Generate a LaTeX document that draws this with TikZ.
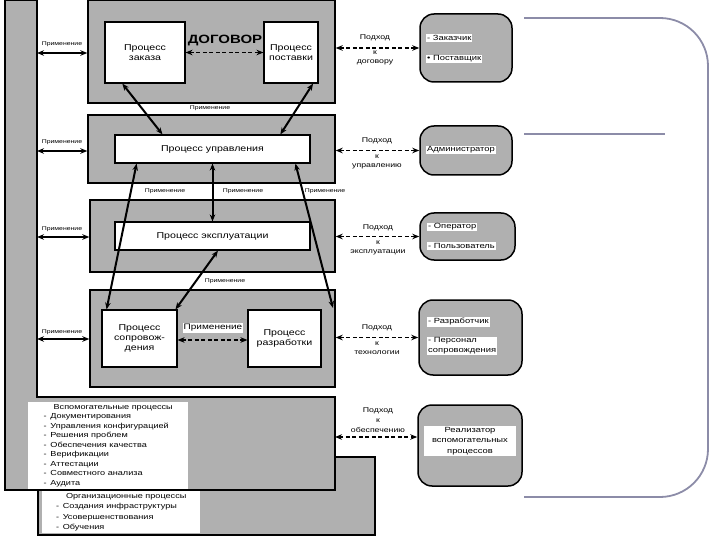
\documentclass[tikz,border=0pt]{standalone}
\usepackage{fontspec}
\setmainfont[FakeStretch=1.25]{Liberation Sans}
\usetikzlibrary{arrows.meta,calc}
\definecolor{framecol}{HTML}{8C8CA8}
\definecolor{halftone}{HTML}{B0B0B0}
\begin{document}
\begin{tikzpicture}[x=1pt,y=-1pt,
  block/.style={draw=black,line width=1.4pt,fill=halftone,inner sep=0pt},
  proc/.style={draw=black,line width=1.1pt,fill=white,inner sep=1pt,align=center,font=\fontsize{8.5}{10}\selectfont},
  actor/.style={draw=black,line width=1.5pt,fill=halftone,rounded corners=14pt,inner sep=0pt},
  strip/.style={fill=white,inner sep=1pt,align=left,font=\fontsize{7.5}{9}\selectfont},
  lbl/.style={inner sep=0pt,font=\fontsize{5.5}{6}\selectfont},
  apl/.style={inner sep=0pt,align=center,font=\fontsize{7}{9}\selectfont},
  tip/.style={{Stealth[length=7pt,width=5.5pt]}-{Stealth[length=7pt,width=5.5pt]}},
  solidarr/.style={tip,line width=2pt},
  leftarr/.style={tip,line width=1.4pt},
  dasharr/.style={tip,line width=1.2pt,dash pattern=on 4pt off 2.5pt},
  frameline/.style={draw=framecol,line width=1.8pt}
]
\useasboundingbox (0,0) rectangle (720,540);

% organizational processes box
\draw[line width=1.4pt,fill=halftone] (38,457) rectangle (375,535);
% support processes L-shaped frame
\draw[line width=1.4pt,fill=halftone] (5,0) -- (37,0) -- (37,397) -- (335,397) -- (335,490) -- (5,490) -- cycle;

\node[strip,anchor=north west,inner sep=2pt,minimum width=160pt,minimum height=84pt,font=\fontsize{7.3}{9.5}\selectfont] (supp) at (28,402)
 {\hspace*{10pt}Вспомогательные процессы\\
 - \,Документирования\\
 - \,Управления конфигурацией\\
 - \,Решения проблем\\
 - \,Обеспечения качества\\
 - \,Верификации\\
 - \,Аттестации\\
 - \,Совместного анализа\\
 - \,Аудита};
\node[strip,anchor=north west,inner sep=2pt,minimum width=158pt,minimum height=42pt,font=\fontsize{7.3}{10.2}\selectfont] (org) at (42,491)
 {\hspace*{10pt}Организационные процессы\\
 - \,Создания инфраструктуры\\
 - \,Усовершенствования\\
 - \,Обучения};

% process blocks
\node[block,minimum width=247pt,minimum height=103pt] (b1) at (211.5,51.5) {};
\node[block,minimum width=247pt,minimum height=68pt] (b2) at (211.5,149) {};
\node[block,minimum width=245pt,minimum height=72pt] (b3) at (212.5,236) {};
\node[block,minimum width=245pt,minimum height=97pt] (b4) at (212.5,338.5) {};

\node[proc,minimum width=80pt,minimum height=61pt] (zakaz) at (145,52.5) {Процесс\\заказа};
\node[proc,minimum width=54pt,minimum height=61pt] (post) at (291,52.5) {Процесс\\поставки};
\node[proc,minimum width=195pt,minimum height=28pt] (upr) at (212.5,149) {Процесс управления};
\node[proc,minimum width=195pt,minimum height=28pt] (expl) at (212.5,236) {Процесс эксплуатации};
\node[proc,minimum width=75pt,minimum height=57pt] (sopr) at (139.5,338.5) {Процесс\\сопровож-\\дения};
\node[proc,minimum width=73pt,minimum height=57pt] (razr) at (284.5,338.5) {Процесс\\разработки};

\node[inner sep=0pt,font=\fontsize{12}{14}\bfseries\selectfont] (dog) at (225,41) {ДОГОВОР};
\draw[dasharr] (zakaz.east) -- (post.west);
\node[fill=white,inner sep=1pt,font=\fontsize{8}{9}\selectfont] (prim4) at (213,328) {Применение};
\draw[dasharr] (sopr.east |- 0,340) -- (razr.west |- 0,340);

% labels between blocks
\node[lbl] (p12) at (210,108) {Применение};
\node[lbl] (p23a) at (165,191) {Применение};
\node[lbl] (p23b) at (243,191) {Применение};
\node[lbl] (p23c) at (325,191) {Применение};
\node[lbl] (p34) at (225,281) {Применение};

% solid connectors
\coordinate (a5end) at (333,308);
\draw[solidarr] ($(zakaz.south west)!0.22!(zakaz.south east)$) -- ($(upr.north west)!0.245!(upr.north east)$);
\draw[solidarr] ($(post.south west)!0.9!(post.south east)$) -- ($(upr.north west)!0.846!(upr.north east)$);
\draw[solidarr] ($(upr.south west)!0.113!(upr.south east)$) -- ($(sopr.north west)!0.067!(sopr.north east)$);
\draw[solidarr] (upr.south) -- (expl.north);
\draw[solidarr] ($(upr.south west)!0.923!(upr.south east)$) -- (a5end);
\draw[solidarr] ($(expl.south west)!0.528!(expl.south east)$) -- ($(sopr.north west)!0.973!(sopr.north east)$);

% left application arrows
\coordinate (L1) at (37,53);
\coordinate (L2) at (37,151);
\coordinate (L3) at (37,237);
\coordinate (L4) at (37,339);
\draw[leftarr] (L1) -- (L1 -| b1.west);
\draw[leftarr] (L2) -- (L2 -| b2.west);
\draw[leftarr] (L3) -- (L3 -| b3.west);
\draw[leftarr] (L4) -- (L4 -| b4.west);
\node[lbl] (l1) at (62,44) {Применение};
\node[lbl] (l2) at (62,142) {Применение};
\node[lbl] (l3) at (62,229) {Применение};
\node[lbl] (l4) at (62,332) {Применение};

% actors
\node[actor,minimum width=92pt,minimum height=68pt] (ac1) at (466,48) {};
\node[actor,minimum width=92pt,minimum height=49pt] (ac2) at (466,150.5) {};
\node[actor,minimum width=95pt,minimum height=47pt] (ac3) at (467.5,236.5) {};
\node[actor,minimum width=103pt,minimum height=75pt] (ac4) at (470.5,337.5) {};
\node[actor,minimum width=104pt,minimum height=81pt] (ac5) at (470,445.5) {};

\node[strip,anchor=west] (t11) at (426,38) {- Заказчик};
\node[strip,anchor=west] (t12) at (426,59) {• Поставщик};
\node[strip,anchor=west] (t21) at (426,150) {Администратор};
\node[strip,anchor=west] (t31) at (427,227) {- Оператор};
\node[strip,anchor=west] (t32) at (427,246) {- Пользователь};
\node[strip,anchor=west] (t41) at (427,322) {- Разработчик};
\node[strip,anchor=west,font=\fontsize{7.5}{10}\selectfont] (t42) at (427,346) {- Персонал\\сопровождения};
\node[strip,align=center,minimum width=92pt,font=\fontsize{7.5}{10.5}\selectfont] (t51) at (470,441) {Реализатор\\вспомогательных\\процессов};

% approach arrows
\coordinate (s5) at (335,437);
\draw[dasharr] (ac1.west -| b1.east) -- (ac1.west);
\draw[dasharr] (ac2.west -| b2.east) -- (ac2.west);
\draw[dasharr] (ac3.west -| b3.east) -- (ac3.west);
\draw[dasharr] (ac4.west -| b4.east) -- (ac4.west);
\draw[dasharr] (s5) -- (s5 -| ac5.west);

\node[apl] (r1a) at (375,38) {Подход};
\node[apl] (r1b) at (375,58) {к\\договору};
\node[apl] (r2a) at (377,141) {Подход};
\node[apl] (r2b) at (377,162) {к\\управлению};
\node[apl] (r3a) at (378,228) {Подход};
\node[apl] (r3b) at (378,248) {к\\эксплуатации};
\node[apl] (r4a) at (377,328) {Подход};
\node[apl] (r4b) at (377,348) {к\\технологии};
\node[apl,font=\fontsize{7}{10}\selectfont] (r5) at (378,420) {Подход\\к\\обеспечению};

% decorative frame on the right
\draw[frameline,rounded corners=48pt] (524,18) -- (708,18) -- (708,497) -- (524,497);
\draw[frameline] (524,134) -- (665,134);
\end{tikzpicture}
\end{document}
